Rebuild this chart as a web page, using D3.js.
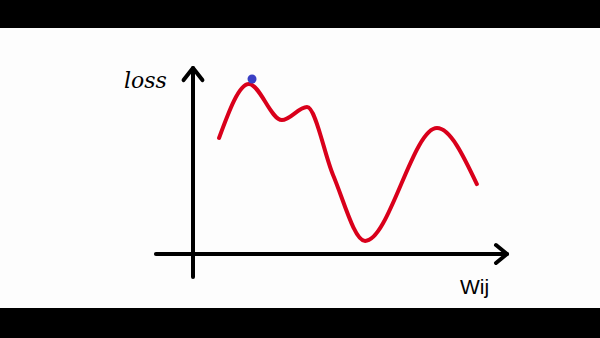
<!DOCTYPE html>
<html>
<head>
<meta charset="utf-8">
<script src="https://cdn.jsdelivr.net/npm/d3@7"></script>
<style>
  html, body { margin: 0; padding: 0; background: #000; }
  svg { display: block; }
</style>
</head>
<body>
<svg width="600" height="338"></svg>
<script>
// loss curve (w in 0..10, loss in 0..10)
var wValues    = [0.83, 1.78, 2.83, 3.63, 4.46, 5.48, 7.77, 9.04];
var lossValues = [6.24, 9.14, 7.20, 7.90, 4.25, 0.70, 6.77, 3.76];

// current position of the weight
var dotW = [1.88];
var dotLoss = [9.41];

var axisLabels = ["loss", "Wij"];

var width = 600, height = 338;
var svg = d3.select("svg");

// frame: white stage between black bars
svg.append("rect").attr("x", 0).attr("y", 0).attr("width", width).attr("height", height).attr("fill", "#000");
svg.append("rect").attr("x", 0).attr("y", 28).attr("width", width).attr("height", 280).attr("fill", "#fdfdfd");

var x = d3.scaleLinear().domain([0, 10]).range([193, 507]);
var y = d3.scaleLinear().domain([0, 10]).range([254, 68]);

var axes = svg.append("g")
    .attr("fill", "none")
    .attr("stroke", "#000")
    .attr("stroke-width", 4)
    .attr("stroke-linecap", "round")
    .attr("stroke-linejoin", "round");

// vertical axis + arrowhead
axes.append("line")
    .attr("x1", x(0)).attr("y1", y(-1.24))
    .attr("x2", x(0)).attr("y2", y(10));
axes.append("polyline")
    .attr("points", [[x(-0.3), y(9.35)], [x(0), y(10)], [x(0.3), y(9.35)]].join(" "));

// horizontal axis + arrowhead
axes.append("line")
    .attr("x1", x(-1.18)).attr("y1", y(0))
    .attr("x2", x(10)).attr("y2", y(0));
axes.append("polyline")
    .attr("points", [[x(9.65), y(0.48)], [x(10), y(0)], [x(9.65), y(-0.48)]].join(" "));

// the curve
var pts = wValues.map(function(w, i) { return [w, lossValues[i]]; });
var line = d3.line()
    .x(function(d) { return x(d[0]); })
    .y(function(d) { return y(d[1]); })
    .curve(d3.curveMonotoneX);

svg.append("path")
    .datum(pts)
    .attr("d", line)
    .attr("fill", "none")
    .attr("stroke", "#d9001b")
    .attr("stroke-width", 4)
    .attr("stroke-linecap", "round");

svg.selectAll("circle.dot")
    .data(dotW)
    .enter().append("circle")
    .attr("class", "dot")
    .attr("cx", function(d) { return x(d); })
    .attr("cy", function(d, i) { return y(dotLoss[i]); })
    .attr("r", 4.5)
    .attr("fill", "#3a3fc4");

// labels
svg.append("text")
    .attr("x", 124).attr("y", 88)
    .attr("font-family", "DejaVu Serif")
    .attr("font-style", "italic")
    .attr("font-size", 22)
    .attr("fill", "#000")
    .text(axisLabels[0]);

svg.append("text")
    .attr("x", 460).attr("y", 294)
    .attr("font-family", "Liberation Sans")
    .attr("font-size", 21)
    .attr("fill", "#000")
    .text(axisLabels[1]);
</script>
</body>
</html>
